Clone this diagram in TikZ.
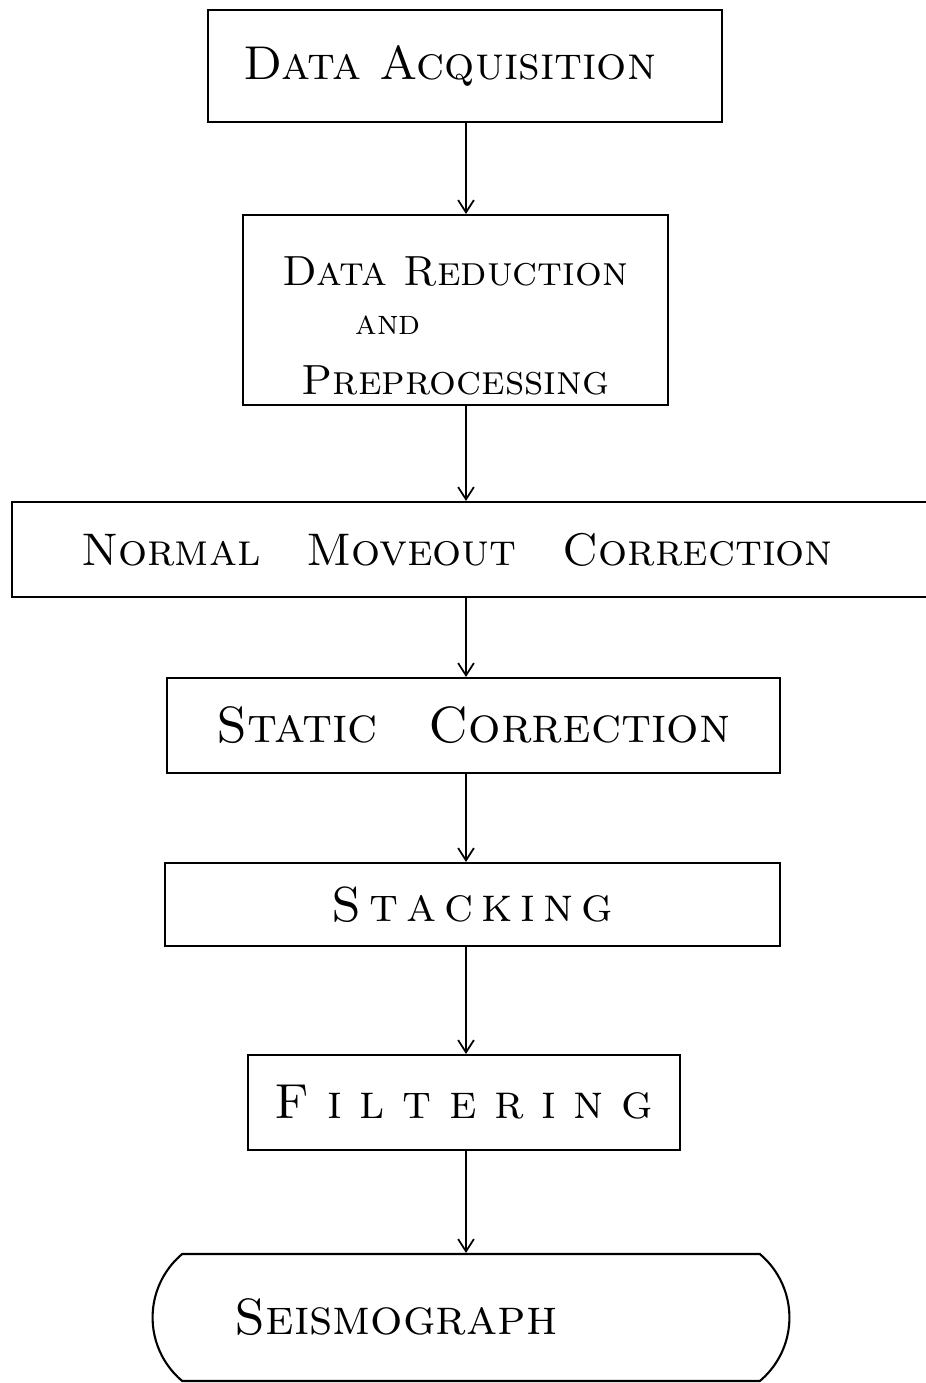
\documentclass[tikz,border=0pt]{standalone}
\usepackage{tikz}
\usetikzlibrary{positioning}
\usetikzlibrary{arrows.meta}
\usetikzlibrary{shapes.misc}
\usetikzlibrary{math}

\newcommand{\fsz}[1]{\fontsize{#1}{#1}\selectfont}
% loose hand lettering: a kern between the letters
\makeatletter
\newcommand{\spreadout}[2]{\def\sp@gap{#1}\sp@loop#2\relax}
\def\sp@loop#1{\ifx#1\relax\unkern\else#1\kern\sp@gap\expandafter\sp@loop\fi}
\makeatother

\begin{document}
\begin{tikzpicture}[x=0.02cm,y=-0.02cm,line width=1.2pt,
    stepbox/.style={draw,rectangle,inner sep=0pt,align=center,
      font=\fsz{24}\scshape},
    endbox/.style={draw,rounded rectangle,rounded rectangle arc length=100,
      inner sep=0pt,font=\fsz{30}\scshape},
    flow/.style={-{Straight Barb[length=7pt,width=9pt]},line width=1pt}]

  \tikzmath{
    \spinex = 466; % x of the vertical flow line
  }

  % page and clipping
  \useasboundingbox (0,0) rectangle (926,1383);
  \clip (0,0) rectangle (926,1383);

  % spine for the connectors
  \coordinate (spine) at (\spinex, 0);

  % the steps
  \node[stepbox,minimum width=10.28cm,minimum height=2.24cm] (acq) at (465,66)
    {\fsz{27}Data Acquisition\hspace*{0.6cm}};
  \node[stepbox,minimum width=8.5cm,minimum height=3.8cm] (red) at (455.5,310)
    {\rule{0pt}{1.2cm}Data Reduction\\[4pt]\makebox[4cm][l]{\fsz{20}and}\\[10pt]Preprocessing};
  \node[stepbox,minimum width=19cm,minimum height=1.9cm] (nmo) at (487,549.5)
    {\fsz{26}Normal\quad Moveout\quad Correction\hspace*{1.2cm}};
  \node[stepbox,minimum width=12.26cm,minimum height=1.9cm] (stat) at (473.5,725.5)
    {\fsz{29}Static\quad Correction};
  \node[stepbox,minimum width=12.3cm,minimum height=1.66cm] (stack) at (472.5,904.5)
    {\fsz{28}\spreadout{4.5pt}{Stacking}};
  \node[stepbox,minimum width=8.64cm,minimum height=1.9cm] (filt) at (464,1102.5)
    {\fsz{28}\spreadout{10pt}{Filtering}};
  \node[endbox,minimum width=12.74cm,minimum height=2.54cm] (seis) at (471,1317.5)
    {\fsz{29}Seismograph\hspace*{3cm}};

  % connectors
  \draw[flow] (acq.south -| spine) -- (red.north -| spine);
  \draw[flow] (red.south -| spine) -- (nmo.north -| spine);
  \draw[flow] (nmo.south -| spine) -- (stat.north -| spine);
  \draw[flow] (stat.south -| spine) -- (stack.north -| spine);
  \draw[flow] (stack.south -| spine) -- (filt.north -| spine);
  \draw[flow] (filt.south -| spine) -- (seis.north -| spine);

\end{tikzpicture}
\end{document}
